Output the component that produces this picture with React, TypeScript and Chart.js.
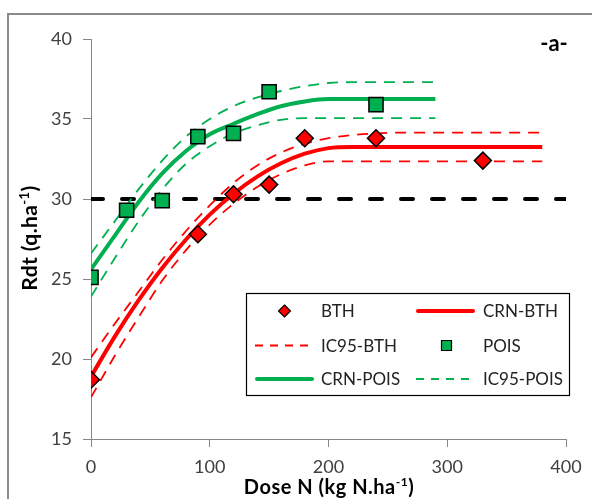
import React, { useEffect, useRef } from 'react';
import { Chart, registerables } from 'chart.js';

Chart.register(...registerables);

// Observed data
const bthDose = [0, 90, 120, 150, 180, 240, 330];
const bthYield = [18.7, 27.8, 30.3, 30.9, 33.8, 33.8, 32.4];
const poisDose = [0, 30, 60, 90, 120, 150, 240];
const poisYield = [25.1, 29.3, 29.9, 33.9, 34.1, 36.7, 35.9];

// Fitted response curves
const crnBthDose = [0, 20, 40, 60, 80, 100, 120, 140, 160, 180, 200, 220, 380];
const crnBth = [18.9, 21.4, 23.66, 25.69, 27.47, 29.02, 30.33, 31.4, 32.23, 32.83, 33.18, 33.25, 33.25];
const icBthUpDose = [0, 20, 40, 60, 80, 100, 120, 140, 160, 180, 200, 220, 240, 260, 380];
const icBthUp = [20.1, 22.2, 24.2, 26.2, 28.0, 29.6, 31.0, 32.1, 32.9, 33.45, 33.8, 34.0, 34.1, 34.15, 34.15];
const icBthLoDose = [0, 20, 40, 60, 80, 100, 120, 140, 160, 180, 200, 380];
const icBthLo = [17.6, 20.2, 22.6, 24.9, 26.8, 28.4, 29.7, 30.75, 31.55, 32.1, 32.35, 32.35];

const crnPoisDose = [0, 20, 40, 60, 80, 100, 120, 140, 160, 180, 200, 290];
const crnPois = [25.6, 27.7, 29.8, 31.6, 33.0, 34.05, 34.7, 35.3, 35.8, 36.1, 36.25, 36.25];
const icPoisUpDose = [0, 20, 40, 60, 80, 100, 120, 140, 160, 180, 200, 220, 290];
const icPoisUp = [26.6, 28.6, 30.6, 32.4, 33.9, 35.0, 35.8, 36.35, 36.75, 37.05, 37.25, 37.3, 37.3];
const icPoisLoDose = [0, 20, 40, 60, 80, 100, 120, 140, 160, 180, 290];
const icPoisLo = [23.9, 26.3, 28.6, 30.6, 32.2, 33.3, 34.1, 34.6, 34.95, 35.05, 35.05];

const refDose = [0, 400];
const refYield = [30, 30];

const xTicks = [0, 100, 200, 300, 400];
const yTicks = [15, 20, 25, 30, 35, 40];

const legendLabels = ['BTH', 'CRN-BTH', 'IC95-BTH', 'POIS', 'CRN-POIS', 'IC95-POIS'];
const xTitle = 'Dose N (kg N.ha';
const yTitle = 'Rdt (q.ha';
const panelLabel = '-a-';

const RED = '#FF0000';
const GREEN = '#00B050';
const FONT = "Lato, 'Open Sans', sans-serif";
const AXIS_GRAY = '#868686';

const pts = (xs: number[], ys: number[]) => xs.map((x, i) => ({ x, y: ys[i] }));

function drawDiamond(ctx: CanvasRenderingContext2D, x: number, y: number, r: number) {
  ctx.beginPath();
  ctx.moveTo(x, y - r);
  ctx.lineTo(x + r, y);
  ctx.lineTo(x, y + r);
  ctx.lineTo(x - r, y);
  ctx.closePath();
  ctx.fillStyle = RED;
  ctx.fill();
  ctx.lineWidth = 1.2;
  ctx.strokeStyle = '#000';
  ctx.stroke();
}

function drawSquare(ctx: CanvasRenderingContext2D, x: number, y: number, h: number) {
  ctx.beginPath();
  ctx.rect(x - h, y - h, 2 * h, 2 * h);
  ctx.fillStyle = GREEN;
  ctx.fill();
  ctx.lineWidth = 1.2;
  ctx.strokeStyle = '#000';
  ctx.stroke();
}

function drawLineSample(ctx: CanvasRenderingContext2D, x1: number, x2: number, y: number, color: string, width: number, dash: number[]) {
  ctx.save();
  ctx.beginPath();
  ctx.setLineDash(dash);
  ctx.lineWidth = width;
  ctx.strokeStyle = color;
  ctx.lineCap = dash.length ? 'butt' : 'round';
  ctx.moveTo(x1, y);
  ctx.lineTo(x2, y);
  ctx.stroke();
  ctx.restore();
}

function setSpacing(ctx: CanvasRenderingContext2D, px: number) {
  const c = ctx as any;
  if ('letterSpacing' in c) c.letterSpacing = `${px}px`;
}

function drawSupText(ctx: CanvasRenderingContext2D, base: string, x: number, y: number, size: number, spacing: number) {
  // base + superscript "-1" + ")"
  const supSize = Math.round(size * 0.62);
  setSpacing(ctx, spacing);
  ctx.font = `bold ${size}px ${FONT}`;
  const wBase = ctx.measureText(base).width;
  ctx.font = `bold ${supSize}px ${FONT}`;
  const wSup = ctx.measureText('-1').width;
  ctx.font = `bold ${size}px ${FONT}`;
  const wEnd = ctx.measureText(')').width;
  const total = wBase + wSup + wEnd;
  let sx = x - total / 2;
  ctx.textBaseline = 'alphabetic';
  ctx.textAlign = 'left';
  ctx.fillText(base, sx, y);
  sx += wBase;
  ctx.font = `bold ${supSize}px ${FONT}`;
  ctx.fillText('-1', sx, y - size * 0.38);
  sx += wSup;
  ctx.font = `bold ${size}px ${FONT}`;
  ctx.fillText(')', sx, y);
  setSpacing(ctx, 0);
}

const decorPlugin = {
  id: 'decor',
  beforeDraw(chart: any) {
    const ctx = chart.ctx as CanvasRenderingContext2D;
    ctx.save();
    ctx.fillStyle = '#fff';
    ctx.fillRect(0, 0, chart.width, chart.height);
    ctx.strokeStyle = '#8a8a8a';
    ctx.lineWidth = 2;
    ctx.beginPath();
    ctx.moveTo(8, chart.height + 2);
    ctx.lineTo(8, 14);
    ctx.lineTo(chart.width + 2, 14);
    ctx.stroke();
    ctx.restore();
  },
  afterDraw(chart: any) {
    const ctx = chart.ctx as CanvasRenderingContext2D;
    ctx.save();
    // panel label
    ctx.fillStyle = '#000';
    ctx.font = `bold 22px ${FONT}`;
    ctx.textAlign = 'center';
    ctx.textBaseline = 'middle';
    ctx.fillText(panelLabel, 554, 44);

    // axis titles
    ctx.fillStyle = '#000';
    drawSupText(ctx, xTitle, 329, 494, 20, 0.5);
    ctx.save();
    ctx.translate(37, 238);
    ctx.rotate(-Math.PI / 2);
    drawSupText(ctx, yTitle, 0, 0, 21, 0.4);
    ctx.restore();

    // legend
    ctx.fillStyle = '#fff';
    ctx.fillRect(246, 293, 323, 102);
    ctx.strokeStyle = '#000';
    ctx.lineWidth = 1.2;
    ctx.strokeRect(246.5, 293.5, 323, 102);

    const rows = [311, 345.5, 379];
    const c1a = 255, c1b = 314, c1t = 321;
    const c2a = 416, c2b = 475, c2t = 483;
    drawDiamond(ctx, (c1a + c1b) / 2, rows[0], 6);
    drawLineSample(ctx, c2a + 2, c2b - 2, rows[0], RED, 4, []);
    drawLineSample(ctx, c1a, c1b, rows[1], RED, 1.8, [8, 7]);
    drawSquare(ctx, (c2a + c2b) / 2 + 1, rows[1], 5);
    drawLineSample(ctx, c1a + 2, c1b - 2, rows[2], GREEN, 4, []);
    drawLineSample(ctx, c2a, c2b, rows[2], GREEN, 1.8, [8, 7]);

    ctx.fillStyle = '#222';
    ctx.font = `17px ${FONT}`;
    ctx.textAlign = 'left';
    ctx.textBaseline = 'middle';
    ctx.fillText(legendLabels[0], c1t, rows[0] + 1);
    ctx.fillText(legendLabels[1], c2t, rows[0] + 1);
    ctx.fillText(legendLabels[2], c1t, rows[1] + 1);
    ctx.fillText(legendLabels[3], c2t, rows[1] + 1);
    ctx.fillText(legendLabels[4], c1t, rows[2] + 1);
    ctx.fillText(legendLabels[5], c2t, rows[2] + 1);
    ctx.restore();
  },
};

export default function App() {
  const ref = useRef<HTMLCanvasElement | null>(null);

  useEffect(() => {
    if (!ref.current) return;
    const lineDs = (label: string, data: any[], color: string, width: number, dash: number[]) => ({
      label,
      data,
      showLine: true,
      borderColor: color,
      backgroundColor: color,
      borderWidth: width,
      borderDash: dash,
      pointRadius: 0,
      pointHoverRadius: 0,
      fill: false,
      cubicInterpolationMode: 'monotone' as const,
    });

    const chart = new Chart(ref.current, {
      type: 'scatter',
      data: {
        datasets: [
          {
            label: 'BTH',
            data: pts(bthDose, bthYield),
            pointStyle: 'rectRot',
            pointRadius: 8.5,
            pointBackgroundColor: RED,
            pointBorderColor: '#000',
            pointBorderWidth: 1.5,
            showLine: false,
          },
          {
            label: 'POIS',
            data: pts(poisDose, poisYield),
            pointStyle: 'rect',
            pointRadius: 10,
            pointBackgroundColor: GREEN,
            pointBorderColor: '#000',
            pointBorderWidth: 1.5,
            showLine: false,
          },
          lineDs('CRN-BTH', pts(crnBthDose, crnBth), RED, 4, []),
          lineDs('IC95-BTH up', pts(icBthUpDose, icBthUp), RED, 1.8, [11, 8]),
          lineDs('IC95-BTH low', pts(icBthLoDose, icBthLo), RED, 1.8, [11, 8]),
          lineDs('CRN-POIS', pts(crnPoisDose, crnPois), GREEN, 4, []),
          lineDs('IC95-POIS up', pts(icPoisUpDose, icPoisUp), GREEN, 1.8, [11, 8]),
          lineDs('IC95-POIS low', pts(icPoisLoDose, icPoisLo), GREEN, 1.8, [11, 8]),
          {
            ...lineDs('ref', pts(refDose, refYield), '#000', 4, [12, 19]),
            borderCapStyle: 'round' as const,
          },
        ],
      },
      options: {
        animation: false,
        responsive: false,
        maintainAspectRatio: false,
        layout: { padding: { top: 39, right: 26, left: 0, bottom: 0 } },
        plugins: {
          legend: { display: false },
          tooltip: { enabled: false },
        },
        scales: {
          x: {
            type: 'linear',
            min: 0,
            max: 400,
            afterBuildTicks: (s: any) => {
              s.ticks = xTicks.map((v) => ({ value: v }));
            },
            ticks: {
              font: { family: FONT, size: 18 },
              color: '#404040',
              padding: 9,
            },
            grid: {
              drawOnChartArea: false,
              drawTicks: true,
              tickLength: 8,
              color: AXIS_GRAY,
              lineWidth: 1,
            },
            border: { display: true, color: AXIS_GRAY, width: 1 },
            afterFit: (s: any) => {
              s.height = 60;
            },
          },
          y: {
            type: 'linear',
            min: 15,
            max: 40,
            afterBuildTicks: (s: any) => {
              s.ticks = yTicks.map((v) => ({ value: v }));
            },
            ticks: {
              font: { family: FONT, size: 18 },
              color: '#404040',
              padding: 11,
            },
            grid: {
              drawOnChartArea: false,
              drawTicks: true,
              tickLength: 8,
              color: AXIS_GRAY,
              lineWidth: 1,
            },
            border: { display: true, color: AXIS_GRAY, width: 1 },
            afterFit: (s: any) => {
              s.width = 91;
            },
          },
        },
      },
      plugins: [decorPlugin],
    });
    return () => chart.destroy();
  }, []);

  return (
    <div style={{ position: 'fixed', left: 0, top: 0, width: 592, height: 499, background: '#fff', overflow: 'hidden' }}>
      <canvas ref={ref} width={592} height={499} style={{ display: 'block' }} />
    </div>
  );
}
